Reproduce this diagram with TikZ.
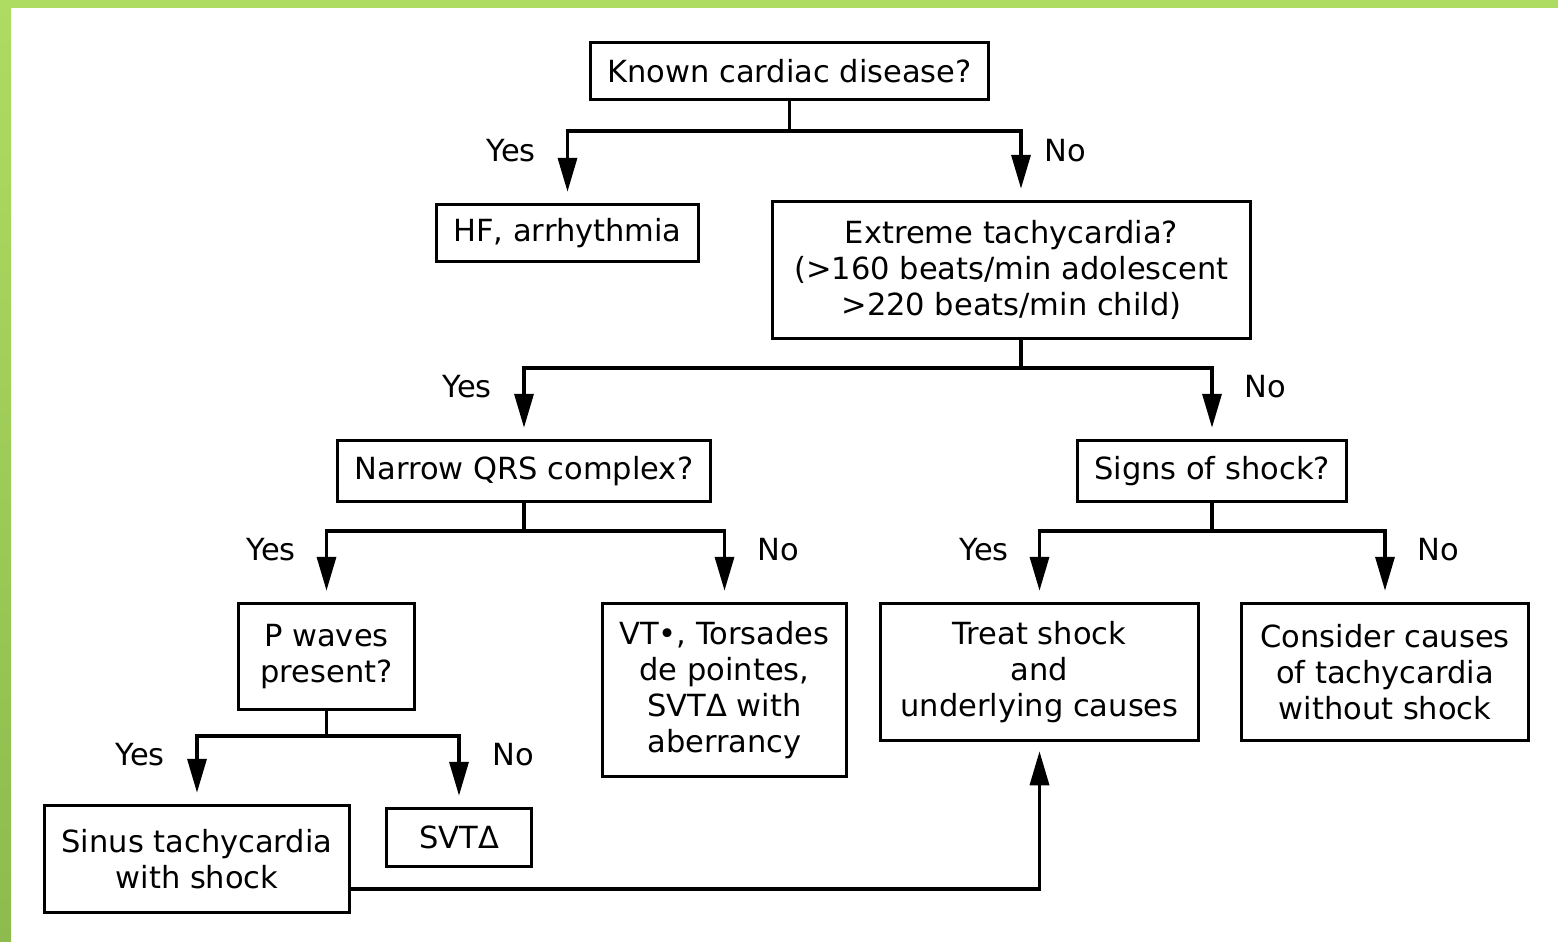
\documentclass[tikz,border=0pt]{standalone}
\usepackage{fontspec}
\setmainfont{DejaVu Sans}
\usetikzlibrary{arrows.meta,positioning,calc}
\definecolor{frame}{HTML}{AEDC62}
\definecolor{framedark}{HTML}{8DBB4D}
\definecolor{ink}{HTML}{000000}
\tikzset{
  base/.style={draw=ink,line width=3.5pt,fill=white,align=center,inner sep=0pt,font=\fontsize{30.5}{36}\selectfont},
  question/.style={base},
  outcome/.style={base},
  line/.style={draw=ink,line width=3.5pt},
  flow/.style={line,-{Triangle[length=34pt,width=19pt]},shorten >=11pt},
  back/.style={flow,shorten >=9pt},
  lbl/.style={font=\fontsize{30.5}{36}\selectfont,inner sep=0pt}
}

\begin{document}
\begin{tikzpicture}[x=1pt,y=-1pt]
\useasboundingbox (0,0) rectangle (1558,942);
% slide frame
\fill[frame] (0,0) rectangle (1558,8);
\shade[top color=frame,bottom color=framedark] (0,0) rectangle (11,942);

\node[question,minimum width=398pt,minimum height=57pt] (known) at (789.5,71) {Known cardiac disease?};
\node[outcome,minimum width=262pt,minimum height=57pt] (hf) at (567.5,233) {HF, arrhythmia};
\node[question,minimum width=478pt,minimum height=137pt] (extreme) at (1011.5,270) {Extreme tachycardia?\\(>160 beats/min adolescent\\>220 beats/min child)};
\node[question,minimum width=373pt,minimum height=61pt] (narrow) at (524,471) {Narrow QRS complex?};
\node[question,minimum width=269pt,minimum height=61pt] (signs) at (1212,471) {Signs of shock?};
\node[question,minimum width=176pt,minimum height=106pt] (pwaves) at (326.5,656.5) {P waves\\present?};
\node[outcome,minimum width=244pt,minimum height=173pt] (vt) at (724.5,690) {VT•, Torsades\\de pointes,\\SVTΔ with\\aberrancy};
\node[outcome,minimum width=318pt,minimum height=137pt] (treat) at (1039.5,672) {Treat shock\\and\\underlying causes};
\node[outcome,minimum width=287pt,minimum height=137pt] (consider) at (1385,672) {Consider causes\\of tachycardia\\without shock};
\node[outcome,minimum width=305pt,minimum height=107pt] (sinus) at (197,859) {Sinus tachycardia\\with shock};
\node[outcome,minimum width=145pt,minimum height=58pt] (svt) at (459,837.5) {SVTΔ};

% branch points
\coordinate (k1) at (known.south |- 0,131);
\coordinate (ein) at ([xshift=9.5pt]extreme.north);
\coordinate (eout) at ([xshift=9.5pt]extreme.south);
\coordinate (e1) at (eout |- 0,368);
\coordinate (n1) at (narrow.south |- 0,531);
\coordinate (s1) at (signs.south |- 0,531);
\coordinate (p1) at (pwaves.south |- 0,736);
\coordinate (b1) at (sinus.east |- 0,889);

\draw[line] (known) -- (k1);
\draw[flow] (k1) -| (hf);
\draw[flow] (k1) -| (ein);
\draw[line] (eout) -- (e1);
\draw[flow] (e1) -| (narrow);
\draw[flow] (e1) -| (signs);
\draw[line] (narrow) -- (n1);
\draw[flow] (n1) -| (pwaves);
\draw[flow] (n1) -| (vt);
\draw[line] (signs) -- (s1);
\draw[flow] (s1) -| (treat);
\draw[flow] (s1) -| (consider);
\draw[line] (pwaves) -- (p1);
\draw[flow] (p1) -| (sinus);
\draw[flow] (p1) -| (svt);
\draw[back] (b1) -| (treat);

\node[lbl,anchor=east] (yes1) at (536,151) {Yes};
\node[lbl,anchor=west] (no1) at (1044,151) {No};
\node[lbl,anchor=east] (yes2) at (492,387) {Yes};
\node[lbl,anchor=west] (no2) at (1244,387) {No};
\node[lbl,anchor=east] (yes3) at (296,550) {Yes};
\node[lbl,anchor=west] (no3) at (757,550) {No};
\node[lbl,anchor=east] (yes4) at (1009,550) {Yes};
\node[lbl,anchor=west] (no4) at (1417,550) {No};
\node[lbl,anchor=east] (yes5) at (165,755) {Yes};
\node[lbl,anchor=west] (no5) at (492,755) {No};
\end{tikzpicture}
\end{document}
